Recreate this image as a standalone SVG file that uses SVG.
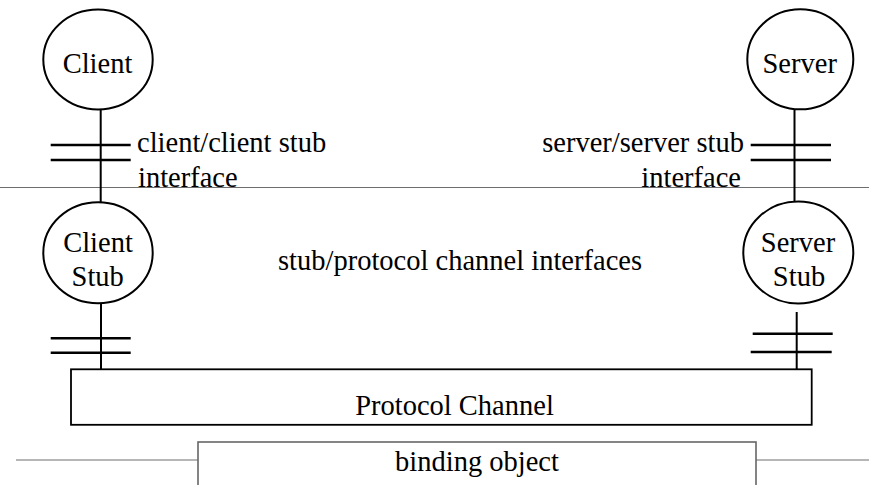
<svg xmlns="http://www.w3.org/2000/svg" width="869" height="485" viewBox="0 0 869 485" font-family="'Liberation Serif', 'DejaVu Serif', 'Times New Roman', Times, serif" font-size="28.5">
  <style>
    text { font-family: 'Liberation Serif', 'DejaVu Serif', 'Times New Roman', Times, serif; font-size: 28.5px; fill: #000; }
    .mid { text-anchor: middle; }
    .end { text-anchor: end; }
    .node { fill: #fff; stroke: #000; stroke-width: 2; }
    .wire { stroke: #000; stroke-width: 2; fill: none; }
    .tick { stroke: #000; stroke-width: 2.5; fill: none; }
    .rule { stroke: #6e6e6e; stroke-width: 1.2; fill: none; }
    .box { fill: #fff; stroke: #000; stroke-width: 1.8; }
    .gbox { fill: #fff; stroke: #666; stroke-width: 1.6; }
  </style>

  <!-- layer boundary between application and stub layers -->
  <line class="rule" x1="0" y1="187.5" x2="869" y2="187.5"/>

  <g id="connectors">
    <!-- client side -->
    <line class="wire" x1="100.7" y1="110" x2="100.7" y2="202"/>
    <line class="wire" x1="101" y1="303" x2="101" y2="369"/>
    <line class="tick" x1="50.7" y1="145" x2="130.7" y2="145"/>
    <line class="tick" x1="50.7" y1="160" x2="130.7" y2="160"/>
    <line class="tick" x1="50.7" y1="338.3" x2="130.7" y2="338.3"/>
    <line class="tick" x1="50.7" y1="352.7" x2="130.7" y2="352.7"/>
    <!-- server side -->
    <line class="wire" x1="794.5" y1="109" x2="794.5" y2="201"/>
    <line class="wire" x1="796.7" y1="312" x2="796.7" y2="369"/>
    <line class="tick" x1="750.7" y1="145" x2="831" y2="145"/>
    <line class="tick" x1="750.7" y1="160" x2="831" y2="160"/>
    <line class="tick" x1="752.7" y1="333.7" x2="832.7" y2="333.7"/>
    <line class="tick" x1="750.7" y1="352" x2="831.7" y2="352"/>
    <!-- binding object leads -->
    <line class="rule" x1="16" y1="460" x2="198" y2="460"/>
    <line class="rule" x1="756" y1="460" x2="869" y2="460"/>
  </g>

  <g id="client">
    <ellipse class="node" cx="98" cy="59.5" rx="54.7" ry="50"/>
    <text class="mid" x="97.5" y="72.7">Client</text>
  </g>

  <g id="server">
    <ellipse class="node" cx="800.3" cy="59.3" rx="53" ry="50"/>
    <text class="mid" x="799.7" y="72.7">Server</text>
  </g>

  <g id="client-stub">
    <ellipse class="node" cx="98" cy="252.8" rx="54.7" ry="50.5"/>
    <text class="mid" x="98" y="251.7">Client</text>
    <text class="mid" x="97.7" y="285.7">Stub</text>
  </g>

  <g id="server-stub">
    <ellipse class="node" cx="798.3" cy="252.5" rx="55" ry="51"/>
    <text class="mid" x="798" y="251.7">Server</text>
    <text class="mid" x="799" y="285.7">Stub</text>
  </g>

  <g id="protocol-channel">
    <rect class="box" x="71" y="369.3" width="740.7" height="55.5"/>
    <text class="mid" x="454.5" y="415">Protocol Channel</text>
  </g>

  <g id="binding-object">
    <rect class="gbox" x="198" y="442" width="558" height="60"/>
    <text class="mid" x="477" y="471">binding object</text>
  </g>

  <g id="labels">
    <text x="137" y="152">client/client stub</text>
    <text x="138" y="187">interface</text>
    <text class="end" x="744" y="152">server/server stub</text>
    <text class="end" x="741" y="187">interface</text>
    <text x="278" y="270">stub/protocol channel interfaces</text>
  </g>
</svg>
